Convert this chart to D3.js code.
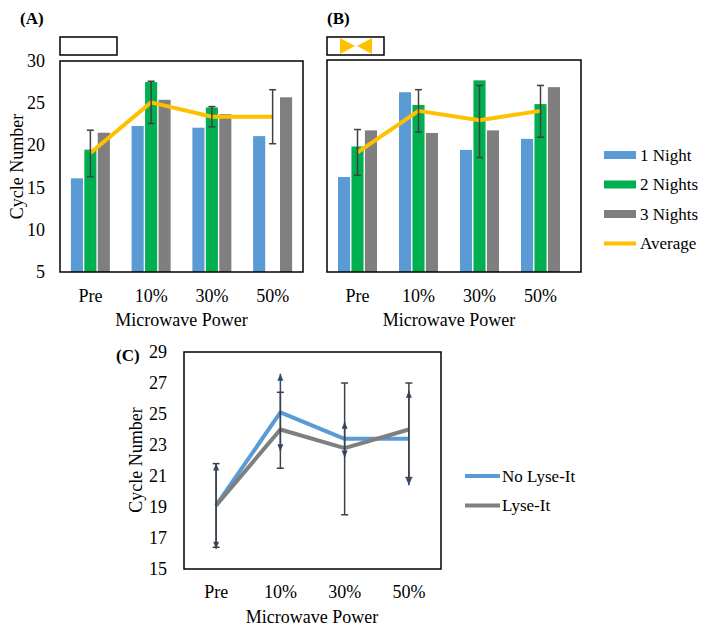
<!DOCTYPE html>
<html><head><meta charset="utf-8">
<script src="https://cdn.jsdelivr.net/npm/d3@7"></script>
<style>body{margin:0;background:#fff}svg{display:block}</style>
</head><body>
<script>
const categories = ["Pre", "10%", "30%", "50%"];
const barSeries = ["1 Night", "2 Nights", "3 Nights"];
const yTicksAB = [5, 10, 15, 20, 25, 30];
const yTicksC = [15, 17, 19, 21, 23, 25, 27, 29];

// Panel A
const aNight1 = [16.1, 22.3, 22.1, 21.1];
const aNight2 = [19.5, 27.5, 24.5, null];
const aNight3 = [21.5, 25.4, 23.7, 25.7];
const aAverage = [19.1, 25.1, 23.4, 23.4];
const aErrLow = [16.3, 22.6, 22.2, 20.2];
const aErrHigh = [21.8, 27.6, 24.6, 26.6];

// Panel B
const bNight1 = [16.2, 26.2, 19.4, 20.7];
const bNight2 = [19.8, 24.7, 27.6, 24.8];
const bNight3 = [21.7, 21.4, 21.7, 26.8];
const bAverage = [19.1, 24.0, 22.9, 24.0];
const bErrLow = [16.4, 21.5, 18.5, 20.9];
const bErrHigh = [21.8, 26.5, 27.0, 27.0];

// Panel C
const cSeries = ["No Lyse-It", "Lyse-It"];
const cNoLyse = [19.1, 25.1, 23.4, 23.4];
const cNoLyseLow = [16.3, 22.6, 22.2, 20.4];
const cNoLyseHigh = [21.8, 27.6, 24.5, 26.5];
const cLyse = [19.1, 24.0, 22.8, 24.0];
const cLyseLow = [16.4, 21.5, 18.5, 20.9];
const cLyseHigh = [21.8, 26.4, 27.0, 27.0];

const colors = {"1 Night": "#5b9bd5", "2 Nights": "#00b050", "3 Nights": "#7f7f7f", "Average": "#ffc000"};
const cColors = {"No Lyse-It": "#5b9bd5", "Lyse-It": "#7f7f7f"};
const errColor = "#404040";
const FONT = "'Liberation Serif', Tinos, 'Times New Roman', 'DejaVu Serif', serif";

const svg = d3.select("body").append("svg").attr("width", 704).attr("height", 630)
  .attr("font-family", FONT).style("font-family", FONT);

function barPanel(opt) {
  const g = svg.append("g");
  const x = d3.scaleBand().domain(categories).range([opt.x0, opt.x1]);
  const y = d3.scaleLinear().domain([5, 30]).range([opt.y1, opt.y0]);
  const x1 = d3.scaleBand().domain(barSeries).range([-19.5, 19.5]).paddingInner(0.1);
  const vals = [opt.n1, opt.n2, opt.n3];
  barSeries.forEach((s, si) => {
    g.selectAll(null).data(categories.map((c, i) => ({c, v: vals[si][i]})).filter(d => d.v != null))
      .enter().append("rect")
      .attr("x", d => x(d.c) + x.bandwidth() / 2 + x1(s))
      .attr("width", x1.bandwidth())
      .attr("y", d => y(d.v))
      .attr("height", d => y(5) - y(d.v))
      .attr("fill", colors[s]);
  });
  const line = d3.line().x((d, i) => x(categories[i]) + x.bandwidth() / 2).y(d => y(d));
  g.append("path").datum(opt.avg).attr("d", line).attr("fill", "none")
    .attr("stroke", colors["Average"]).attr("stroke-width", 4).attr("stroke-linejoin", "round");
  categories.forEach((c, i) => {
    const cx = x(c) + x.bandwidth() / 2;
    g.append("line").attr("x1", cx).attr("x2", cx).attr("y1", y(opt.lo[i])).attr("y2", y(opt.hi[i]))
      .attr("stroke", errColor).attr("stroke-width", 1.5);
    [opt.lo[i], opt.hi[i]].forEach(v => g.append("line").attr("x1", cx - 3.5).attr("x2", cx + 3.5)
      .attr("y1", y(v)).attr("y2", y(v)).attr("stroke", errColor).attr("stroke-width", 1.5));
  });
  g.append("rect").attr("x", opt.x0).attr("y", opt.y0).attr("width", opt.boxR - opt.x0).attr("height", opt.y1 - opt.y0)
    .attr("fill", "none").attr("stroke", "#000").attr("stroke-width", 1.5);
  g.selectAll(null).data(categories).enter().append("text")
    .attr("x", d => x(d) + x.bandwidth() / 2).attr("y", 302).attr("text-anchor", "middle")
    .attr("font-size", 18).text(d => d);
  g.append("text").attr("x", (opt.x0 + opt.x1) / 2).attr("y", 326).attr("text-anchor", "middle")
    .attr("font-size", 18).text("Microwave Power");
  if (opt.yAxis) {
    g.selectAll(null).data(yTicksAB).enter().append("text")
      .attr("x", opt.x0 - 15).attr("y", d => y(d)).attr("dy", "0.33em").attr("text-anchor", "end")
      .attr("font-size", 18).text(d => d);
    g.append("text").attr("transform", `translate(17,${(opt.y0 + opt.y1) / 2}) rotate(-90)`)
      .attr("text-anchor", "middle").attr("dominant-baseline", "central").attr("font-size", 18).text("Cycle Number");
  }
  g.append("text").attr("x", opt.labelX).attr("y", 24).attr("font-size", 17).attr("font-weight", "bold").text(opt.label);
  g.append("rect").attr("x", opt.x0).attr("y", 37).attr("width", 57).attr("height", 18)
    .attr("fill", "none").attr("stroke", "#000").attr("stroke-width", 1.5);
  return g;
}

barPanel({x0: 60, x1: 303, boxR: 303, y0: 61, y1: 272, n1: aNight1, n2: aNight2, n3: aNight3,
  avg: aAverage, lo: aErrLow, hi: aErrHigh, yAxis: true, label: "(A)", labelX: 20});
const gB = barPanel({x0: 327, x1: 571, boxR: 581, y0: 60, y1: 272, n1: bNight1, n2: bNight2, n3: bNight3,
  avg: bAverage, lo: bErrLow, hi: bErrHigh, yAxis: false, label: "(B)", labelX: 327});
gB.append("path").attr("d", "M340,38 L355,46 L340,54 Z").attr("fill", "#ffc000");
gB.append("path").attr("d", "M372,38 L357,46 L372,54 Z").attr("fill", "#ffc000");

const legItems = ["1 Night", "2 Nights", "3 Nights", "Average"];
legItems.forEach((s, i) => {
  const yy = 155 + i * 29.5;
  if (s === "Average") {
    svg.append("line").attr("x1", 604).attr("x2", 636).attr("y1", yy).attr("y2", yy)
      .attr("stroke", colors[s]).attr("stroke-width", 4);
  } else {
    svg.append("rect").attr("x", 604).attr("y", yy - 4).attr("width", 32).attr("height", 8).attr("fill", colors[s]);
  }
  svg.append("text").attr("x", 640).attr("y", yy).attr("dy", "0.33em").attr("font-size", 17).text(s);
});

const gC = svg.append("g");
const xC = d3.scaleBand().domain(categories).range([184, 441]);
const yC = d3.scaleLinear().domain([15, 29]).range([569, 352]);
const cx = c => xC(c) + xC.bandwidth() / 2;
const lineC = d3.line().x((d, i) => cx(categories[i])).y(d => yC(d));
[[cNoLyse, "No Lyse-It"], [cLyse, "Lyse-It"]].forEach(([vals, s]) => {
  gC.append("path").datum(vals).attr("d", lineC).attr("fill", "none").attr("stroke", cColors[s])
    .attr("stroke-width", 4).attr("stroke-linejoin", "round");
});
const navy = "#2e4a6b";
categories.forEach((c, i) => {
  const X = cx(c);
  gC.append("line").attr("x1", X).attr("x2", X).attr("y1", yC(cNoLyseLow[i])).attr("y2", yC(cNoLyseHigh[i]))
    .attr("stroke", navy).attr("stroke-width", 1.5);
  const yh = yC(cNoLyseHigh[i]), yl = yC(cNoLyseLow[i]);
  gC.append("path").attr("d", `M${X - 3},${yh + 7} L${X},${yh} L${X + 3},${yh + 7} Z`).attr("fill", navy);
  gC.append("path").attr("d", `M${X - 3},${yl - 7} L${X},${yl} L${X + 3},${yl - 7} Z`).attr("fill", navy);
  gC.append("line").attr("x1", X).attr("x2", X).attr("y1", yC(cLyseLow[i])).attr("y2", yC(cLyseHigh[i]))
    .attr("stroke", errColor).attr("stroke-width", 1.5);
  [cLyseLow[i], cLyseHigh[i]].forEach(v => gC.append("line").attr("x1", X - 3.5).attr("x2", X + 3.5)
    .attr("y1", yC(v)).attr("y2", yC(v)).attr("stroke", errColor).attr("stroke-width", 1.5));
});
gC.append("rect").attr("x", 184).attr("y", 352).attr("width", 257).attr("height", 217)
  .attr("fill", "none").attr("stroke", "#000").attr("stroke-width", 1.5);
gC.selectAll(null).data(yTicksC).enter().append("text")
  .attr("x", 167).attr("y", d => yC(d)).attr("dy", "0.33em").attr("text-anchor", "end")
  .attr("font-size", 18).text(d => d);
gC.selectAll(null).data(categories).enter().append("text")
  .attr("x", d => cx(d)).attr("y", 598).attr("text-anchor", "middle").attr("font-size", 18).text(d => d);
gC.append("text").attr("x", 312).attr("y", 623).attr("text-anchor", "middle").attr("font-size", 18).text("Microwave Power");
gC.append("text").attr("transform", "translate(136,460) rotate(-90)").attr("text-anchor", "middle")
  .attr("dominant-baseline", "central").attr("font-size", 18).text("Cycle Number");
gC.append("text").attr("x", 116).attr("y", 361).attr("font-size", 17).attr("font-weight", "bold").text("(C)");
cSeries.forEach((s, i) => {
  const yy = 476 + i * 29.5;
  svg.append("line").attr("x1", 465).attr("x2", 500).attr("y1", yy).attr("y2", yy)
    .attr("stroke", cColors[s]).attr("stroke-width", 4);
  svg.append("text").attr("x", 502).attr("y", yy).attr("dy", "0.33em").attr("font-size", 17).text(s);
});
</script>
</body></html>
